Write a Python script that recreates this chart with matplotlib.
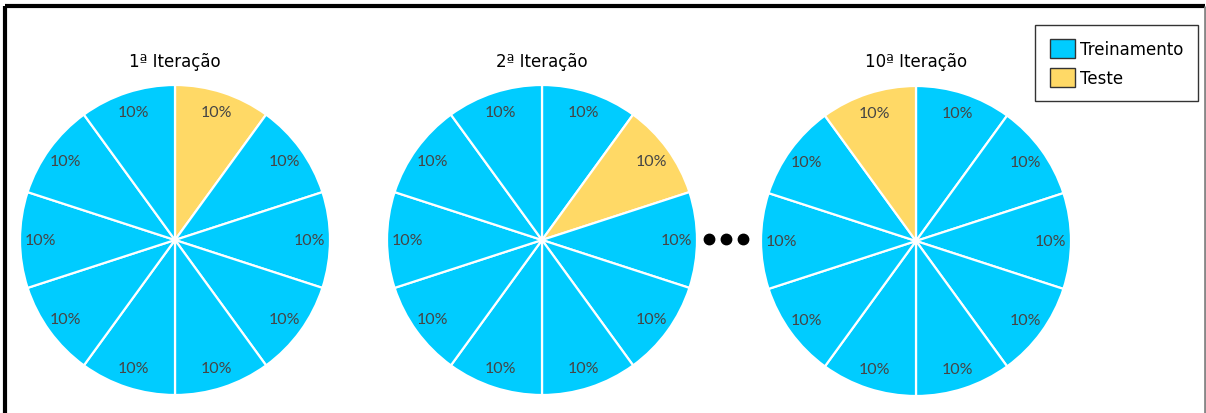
import matplotlib.pyplot as plt
from matplotlib.patches import Patch

# data
titles = ['1ª Iteração', '2ª Iteração', '10ª Iteração']
test_fold = [0, 1, 9]          # index of the "Teste" slice in each pie
sizes = [10] * 10
legend_labels = ['Treinamento', 'Teste']

blue = '#00CCFF'
yellow = '#FFD966'

W, H = 1206, 414
fig = plt.figure(figsize=(W / 100, H / 100), dpi=100)

# pie centres in pixels, radius in pixels
centres = [(175, 241), (542, 241), (916, 242)]
r = 155

for (cx, cy), title, tf in zip(centres, titles, test_fold):
    ax = fig.add_axes([(cx - r) / W, (H - cy - r) / H, 2 * r / W, 2 * r / H])
    colors = [yellow if i == tf else blue for i in range(len(sizes))]
    ax.pie(sizes, colors=colors, startangle=90, counterclock=False,
           autopct='%d%%', pctdistance=0.87,
           wedgeprops=dict(edgecolor='white', linewidth=1.6),
           textprops=dict(family='Lato', fontsize=11.5, color='#454545'))
    ax.set_xlim(-1, 1)
    ax.set_ylim(-1, 1)
    ax.set_aspect('auto')
    ax.axis('off')
    fig.text(cx / W, 1 - 62 / H, title, ha='center', va='center',
             fontsize=12, family='DejaVu Sans', color='black')

# overlay for the border and the dots
ov = fig.add_axes([0, 0, 1, 1], zorder=-1)
ov.set_xlim(0, W)
ov.set_ylim(H, 0)
ov.axis('off')
ov.plot([5, 1205], [7, 7], color='black', lw=3, solid_capstyle='butt')
ov.plot([5, 5], [7, H], color='black', lw=3, solid_capstyle='butt')
ov.plot([1205, 1205], [7, H], color='#888888', lw=2, solid_capstyle='butt')

ov2 = fig.add_axes([0, 0, 1, 1], zorder=5)
ov2.set_xlim(0, W)
ov2.set_ylim(H, 0)
ov2.axis('off')
ov2.plot([709, 726, 743], [240, 240, 240], 'o', color='black', ms=7.5)

handles = [Patch(facecolor=blue, edgecolor='#333333', label=legend_labels[0]),
           Patch(facecolor=yellow, edgecolor='#333333', label=legend_labels[1])]
leg = fig.legend(handles=handles, loc='upper right',
                 bbox_to_anchor=(1198 / W, 1 - 26 / H),
                 fancybox=False, edgecolor='#333333', framealpha=1,
                 prop=dict(family='DejaVu Sans', size=12),
                 handlelength=1.5, handleheight=1.4, handletextpad=0.35,
                 borderpad=0.85, labelspacing=0.55, borderaxespad=0)
leg.get_frame().set_linewidth(1.0)

fig.savefig('out.png', dpi=100)
